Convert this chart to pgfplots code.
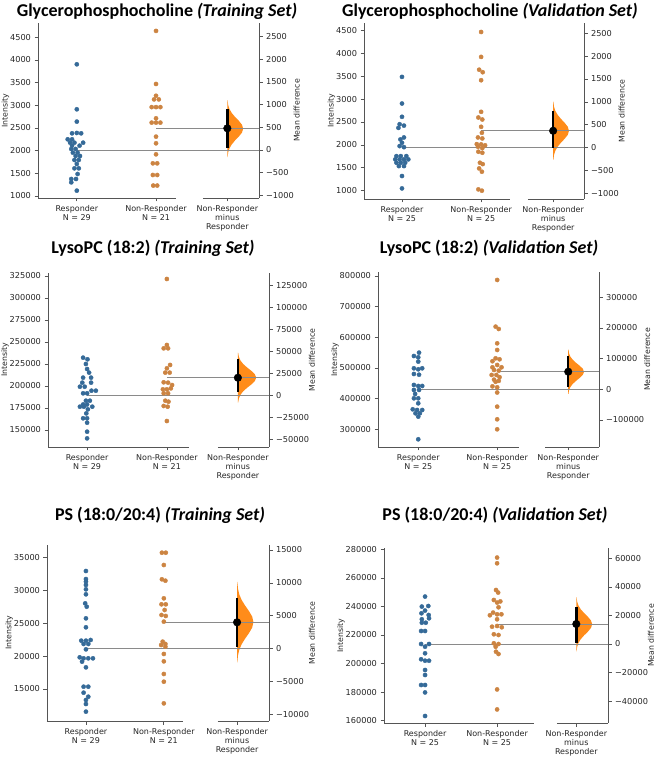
\documentclass[border=0pt]{standalone}
\usepackage{fontspec}
\setmainfont{DejaVu Sans}
\newfontfamily\titlefont{Carlito}
\usepackage{pgfplots}
\pgfplotsset{compat=1.18}

\definecolor{rblue}{HTML}{356A98}
\definecolor{nrorange}{HTML}{CC8442}
\definecolor{violin}{HTML}{FF8C1A}
\definecolor{spine}{HTML}{555555}
\definecolor{meanl}{HTML}{8A8A8A}

\pgfplotsset{
  swarm/.style={
    scale only axis, clip=false,
    axis y line*=left, axis x line*=bottom,
    x axis line style={draw=none},
    y axis line style={draw=spine, line width=0.8pt},
    tick align=outside, major tick length=3.5pt,
    tick style={draw=spine, line width=0.7pt},
    tick label style={font=\fontsize{8.2}{9.5}\selectfont, text=black!85},
    xticklabel style={align=center, font=\fontsize{8}{9.3}\selectfont},
    scaled y ticks=false,
    /pgf/number format/fixed, /pgf/number format/1000 sep={},
    /pgf/number format/assume math mode=true,
    ylabel={Intensity}, ylabel shift=-6pt,
    ylabel style={font=\fontsize{7.8}{9}\selectfont, text=black!85},
    title style={font=\titlefont\fontsize{18}{21}\selectfont\bfseries,
      at={(axis description cs:0.5,1)}, anchor=center},
  },
  delta/.style={
    scale only axis, clip=false,
    axis y line*=right, axis x line=none,
    y axis line style={draw=spine, line width=0.8pt},
    tick align=outside, major tick length=3.5pt,
    tick style={draw=spine, line width=0.7pt},
    tick label style={font=\fontsize{8.2}{9.5}\selectfont, text=black!85},
    scaled y ticks=false,
    ylabel={Mean difference}, ylabel shift=-7pt,
    ylabel style={font=\fontsize{7.8}{9}\selectfont, text=black!85},
  },
  rdot/.style={only marks, mark=*, mark size=2.1pt, rblue, forget plot},
  ndot/.style={only marks, mark=*, mark size=2.1pt, nrorange, forget plot},
  meanline/.style={meanl, line width=0.9pt, forget plot},
  base/.style={spine, line width=0.8pt, forget plot},
  vio/.style={fill=violin, draw=none, forget plot},
  ci/.style={black, line width=2.4pt, forget plot},
  md/.style={only marks, mark=*, mark size=3.8pt, black, forget plot},
}

\begin{document}
\begin{tikzpicture}
\useasboundingbox (0pt,0pt) rectangle (655pt,757pt);

% ---------------- Panel 1: Glycerophosphocholine, training
\begin{axis}[swarm, at={(38pt,559pt)}, anchor=south west, width=221pt, height=175pt,
  xmin=-0.49, xmax=2.30, ymin=956, ymax=4815,
  xtick={0,1,1.9},
  xticklabels={{Responder\\N = 29},{Non-Responder\\N = 21},{Non-Responder\\minus\\Responder}},
  ytick={1000,1500,2000,2500,3000,3500,4000,4500},
  title={Glycerophosphocholine \textit{(Training Set)}},
  title style={xshift=8.5pt, yshift=6pt}]
\addplot[base] coordinates {(-0.49,956) (1.25,956)};
\addplot[base] coordinates {(1.59,956) (2.30,956)};
\addplot[meanline] coordinates {(0,2014) (2.30,2014)};
\addplot[meanline] coordinates {(1,2493) (2.30,2493)};
\addplot[rdot] coordinates {
 (0,3904) (0,2912) (0,2640) (-0.06,2382) (0,2390) (0.055,2382)
 (-0.115,2250) (-0.06,2250) (-0.085,2176) (-0.03,2176) (0.08,2176)
 (-0.06,2110) (0.035,2110) (-0.07,2037) (-0.015,2037) (-0.05,1956) (0.01,1956)
 (-0.015,1882) (0.04,1882) (-0.03,1794) (0.025,1794) (0,1706)
 (-0.03,1610) (0.025,1610) (0.01,1485) (-0.07,1375) (-0.01,1375) (-0.07,1301) (0,1118)};
\addplot[ndot] coordinates {
 (1,4640) (1,3470) (1,3210) (0.975,3130) (1.035,3130)
 (0.945,2960) (1,2960) (1.055,2960) (1,2713) (0.945,2618) (1,2618) (1.055,2618)
 (1,2309) (1,2162) (1,1919) (0.96,1720) (1.015,1720) (0.96,1463) (1.015,1463)
 (0.965,1230) (1.015,1230)};
\end{axis}
\begin{axis}[delta, at={(38pt,559pt)}, anchor=south west, width=221pt, height=175pt,
  xmin=-0.49, xmax=2.30, ymin=-1058, ymax=2801,
  ytick={-1000,-500,0,500,1000,1500,2000,2500},
  yticklabels={−1000,−500,0,500,1000,1500,2000,2500}]
\addplot[vio] coordinates {
 (1.9,-159) (1.903,-159) (1.911,-51) (1.927,36) (1.956,123) (1.997,210) (2.045,296)
 (2.085,383) (2.1,470) (2.085,557) (2.045,644) (1.997,730) (1.956,817) (1.927,904)
 (1.911,991) (1.903,1099) (1.9,1099)};
\addplot[meanline] coordinates {(1.59,0) (2.30,0)};
\addplot[meanline] coordinates {(1.59,479) (2.30,479)};
\addplot[ci] coordinates {(1.9,50) (1.9,900)};
\addplot[md] coordinates {(1.9,479)};
\end{axis}

% ---------------- Panel 2: Glycerophosphocholine, validation
\begin{axis}[swarm, at={(364pt,558pt)}, anchor=south west, width=220pt, height=176pt,
  xmin=-0.48, xmax=2.30, ymin=819, ymax=4659,
  xtick={0,1,1.91},
  xticklabels={{Responder\\N = 25},{Non-Responder\\N = 25},{Non-Responder\\minus\\Responder}},
  ytick={1000,1500,2000,2500,3000,3500,4000,4500},
  title={Glycerophosphocholine \textit{(Validation Set)}},
  title style={xshift=16pt, yshift=6pt}]
\addplot[base] coordinates {(-0.48,819) (1.37,819)};
\addplot[base] coordinates {(1.59,819) (2.30,819)};
\addplot[meanline] coordinates {(0,1937) (2.30,1937)};
\addplot[meanline] coordinates {(1,2307) (2.30,2307)};
\addplot[rdot] coordinates {
 (0,3483) (0,2902) (0,2612) (-0.03,2450) (0.025,2420) (-0.045,2370)
 (0.025,2162) (-0.02,2118) (0,2045) (-0.03,1973) (0.025,1950)
 (-0.07,1755) (-0.015,1755) (0.055,1755)
 (-0.085,1683) (-0.03,1683) (0.025,1683) (0.08,1683)
 (-0.07,1610) (-0.015,1610) (0.04,1610) (-0.04,1537) (0.025,1537) (0,1320) (0,1050)};
\addplot[ndot] coordinates {
 (1,4463) (1,3919) (0.975,3640) (1.02,3585) (1,3410) (1,2721) (0.965,2597) (1.015,2553)
 (1,2394) (1.01,2263) (0.96,2162) (1.015,2140) (0.945,2016) (1,2010) (1.05,1990)
 (0.96,1958) (1.015,1929) (0.965,1850) (1.015,1828) (0.985,1610) (1.02,1580)
 (0.975,1486) (1.01,1414) (0.965,1029) (1.01,1000)};
\end{axis}
\begin{axis}[delta, at={(364pt,558pt)}, anchor=south west, width=220pt, height=176pt,
  xmin=-0.48, xmax=2.30, ymin=-1118, ymax=2722,
  ytick={-1000,-500,0,500,1000,1500,2000,2500},
  yticklabels={−1000,−500,0,500,1000,1500,2000,2500}]
\addplot[vio] coordinates {
 (1.91,-265) (1.913,-265) (1.921,-156) (1.937,-68) (1.966,20) (2.007,107) (2.055,195)
 (2.095,282) (2.11,370) (2.095,458) (2.055,545) (2.007,633) (1.966,720) (1.937,808)
 (1.921,896) (1.913,1005) (1.91,1005)};
\addplot[meanline] coordinates {(1.59,0) (2.30,0)};
\addplot[meanline] coordinates {(1.59,370) (2.30,370)};
\addplot[ci] coordinates {(1.91,0) (1.91,800)};
\addplot[md] coordinates {(1.91,370)};
\end{axis}

% ---------------- Panel 3: LysoPC (18:2), training
\begin{axis}[swarm, at={(48pt,310pt)}, anchor=south west, width=221pt, height=174pt,
  xmin=-0.49, xmax=2.28, ymin=130700, ymax=328400,
  xtick={0,1,1.89},
  xticklabels={{Responder\\N = 29},{Non-Responder\\N = 21},{Non-Responder\\minus\\Responder}},
  ytick={150000,175000,200000,225000,250000,275000,300000,325000},
  title={LysoPC (18:2) \textit{(Training Set)}},
  title style={xshift=-5.5pt, yshift=19pt}]
\addplot[base] coordinates {(-0.49,130700) (1.28,130700)};
\addplot[base] coordinates {(1.64,130700) (2.28,130700)};
\addplot[meanline] coordinates {(0,189000) (2.28,189000)};
\addplot[meanline] coordinates {(1,209400) (2.28,209400)};
\addplot[rdot] coordinates {
 (-0.05,232200) (0.005,230300) (-0.015,225000) (0,219300) (0.025,215200)
 (-0.05,209500) (0.05,209500) (-0.06,203800) (0.05,203800) (-0.09,199200) (-0.03,199200)
 (0.055,194700) (0.11,194700) (-0.05,191700) (0,191700) (-0.015,183300) (0.035,183300)
 (-0.05,179000) (0,179000) (-0.09,176500) (-0.04,176500) (0.065,176500) (0.01,173500)
 (-0.01,168900) (-0.05,163300) (0,163300) (0,158300) (0,148100) (0,140500)};
\addplot[ndot] coordinates {
 (1,321600) (1,246600) (0.96,242800) (1.015,242800) (1.04,223900) (1,220100)
 (0.98,215200) (1.035,215200) (0.96,204200) (1.015,203800) (1.065,201100)
 (0.95,196200) (1,196200) (1.05,197300) (0.96,191700) (1.015,191700)
 (0.98,183300) (1.02,182200) (0.96,177300) (1.01,176500) (1,160200)};
\end{axis}
\begin{axis}[delta, at={(48pt,310pt)}, anchor=south west, width=221pt, height=174pt,
  xmin=-0.49, xmax=2.28, ymin=-58300, ymax=139400,
  ytick={-50000,-25000,0,25000,50000,75000,100000,125000},
  yticklabels={−50000,−25000,0,25000,50000,75000,100000,125000}]
\addplot[vio] coordinates {
 (1.89,-8000) (1.893,-8000) (1.903,-3090) (1.921,840) (1.954,4770) (2.002,8700) (2.057,12640)
 (2.102,16570) (2.12,20500) (2.102,24430) (2.057,28360) (2.002,32300) (1.954,36230)
 (1.921,40160) (1.903,44090) (1.893,49000) (1.89,49000)};
\addplot[meanline] coordinates {(1.64,0) (2.28,0)};
\addplot[meanline] coordinates {(1.64,20400) (2.28,20400)};
\addplot[ci] coordinates {(1.89,4600) (1.89,41500)};
\addplot[md] coordinates {(1.89,20400)};
\end{axis}

% ---------------- Panel 4: LysoPC (18:2), validation
\begin{axis}[swarm, at={(378pt,310pt)}, anchor=south west, width=221pt, height=175pt,
  xmin=-0.51, xmax=2.29, ymin=242300, ymax=813000,
  xtick={0,1,1.9},
  xticklabels={{Responder\\N = 25},{Non-Responder\\N = 25},{Non-Responder\\minus\\Responder}},
  ytick={300000,400000,500000,600000,700000,800000},
  title={LysoPC (18:2) \textit{(Validation Set)}},
  title style={xshift=0.5pt, yshift=18pt}]
\addplot[base] coordinates {(-0.51,242300) (1.28,242300)};
\addplot[base] coordinates {(1.61,242300) (2.29,242300)};
\addplot[meanline] coordinates {(0,430400) (2.29,430400)};
\addplot[meanline] coordinates {(1,487800) (2.29,487800)};
\addplot[rdot] coordinates {
 (0.01,550000) (-0.055,539000) (0,534800) (0,520700) (-0.055,498900) (0.05,498900)
 (0,495700) (-0.055,480400) (0.01,478000) (-0.055,444600) (0.05,441300) (0,441300)
 (-0.055,428300) (0.01,428300) (-0.04,415200) (-0.055,401100) (0,401100) (0,384800)
 (-0.07,365200) (-0.015,363000) (0.05,363000) (-0.035,352200) (0.02,352200)
 (0,341300) (0,267400)};
\addplot[ndot] coordinates {
 (1,787000) (0.98,634800) (1.02,627200) (1,580400) (1,558700) (0.98,531500) (1.03,528300)
 (0.94,522000) (1,509800) (0.94,502200) (1.055,502200) (0.96,493500) (1.02,491300)
 (0.93,477200) (0.99,477200) (1.03,470000) (0.96,462000) (1.02,458000) (0.98,455000)
 (0.94,440000) (1,437000) (1,420000) (1,373900) (1,332600) (1,300000)};
\end{axis}
\begin{axis}[delta, at={(378pt,310pt)}, anchor=south west, width=221pt, height=175pt,
  xmin=-0.51, xmax=2.29, ymin=-188100, ymax=382600,
  ytick={-100000,0,100000,200000,300000},
  yticklabels={−100000,0,100000,200000,300000}]
\addplot[vio] coordinates {
 (1.9,-15200) (1.903,-15200) (1.911,-2760) (1.927,7200) (1.956,17160) (1.997,27120) (2.045,37080)
 (2.085,47040) (2.1,57000) (2.085,66960) (2.045,76920) (1.997,86880) (1.956,96840)
 (1.927,106800) (1.911,116760) (1.903,129200) (1.9,129200)};
\addplot[meanline] coordinates {(1.61,0) (2.29,0)};
\addplot[meanline] coordinates {(1.61,57400) (2.29,57400)};
\addplot[ci] coordinates {(1.9,8400) (1.9,107800)};
\addplot[md] coordinates {(1.9,57400)};
\end{axis}

% ---------------- Panel 5: PS (18:0/20:4), training
\begin{axis}[swarm, at={(47pt,36pt)}, anchor=south west, width=222pt, height=176pt,
  xmin=-0.5, xmax=2.35, ymin=10140, ymax=36870,
  xtick={0,1,1.94},
  xticklabels={{Responder\\N = 29},{Non-Responder\\N = 21},{Non-Responder\\minus\\Responder}},
  ytick={15000,20000,25000,30000,35000},
  title={PS (18:0/20:4) \textit{(Training Set)}},
  title style={xshift=2pt, yshift=24pt}]
\addplot[base] coordinates {(-0.5,10140) (1.24,10140)};
\addplot[base] coordinates {(1.69,10140) (2.35,10140)};
\addplot[meanline] coordinates {(0,21120) (2.35,21120)};
\addplot[meanline] coordinates {(1,25130) (2.35,25130)};
\addplot[rdot] coordinates {
 (0,32920) (0,31700) (0,31300) (0,30800) (0,30140) (0,29380) (-0.01,28010) (0.01,27500)
 (0,25730) (0,24370) (0.06,22440) (-0.06,22340) (0,22340) (-0.03,21840) (0.03,21840)
 (0,21020) (-0.08,19810) (-0.03,19660) (0.03,19660) (0.09,19660) (-0.05,19150) (0,18290)
 (-0.03,15350) (0.03,15350) (-0.03,14440) (0.03,13830) (0,13330) (0,12720) (0,11560)};
\addplot[ndot] coordinates {
 (0.975,35700) (1.025,35700) (1,33830) (0.975,31660) (1.02,31450) (1,28770)
 (0.97,27860) (1.025,27860) (1.01,27000) (0.97,26240) (1.025,26090) (1,25230)
 (0.985,22190) (1.02,21840) (0.965,21680) (1.02,21430) (1,20320) (1,19200)
 (1,17280) (1,16110) (1,12820)};
\end{axis}
\begin{axis}[delta, at={(47pt,36pt)}, anchor=south west, width=222pt, height=176pt,
  xmin=-0.5, xmax=2.35, ymin=-10980, ymax=15750,
  ytick={-10000,-5000,0,5000,10000,15000},
  yticklabels={−10000,−5000,0,5000,10000,15000}]
\addplot[vio] coordinates {
 (1.94,-2080) (1.943,-2080) (1.952,-1024) (1.968,-180) (1.998,664) (2.042,1508) (2.092,2352)
 (2.134,3196) (2.15,4040) (2.134,4884) (2.092,5728) (2.042,6572) (1.998,7416)
 (1.968,8260) (1.952,9104) (1.943,10160) (1.94,10160)};
\addplot[meanline] coordinates {(1.69,0) (2.35,0)};
\addplot[meanline] coordinates {(1.69,4010) (2.35,4010)};
\addplot[ci] coordinates {(1.94,300) (1.94,7660)};
\addplot[md] coordinates {(1.94,4010)};
\end{axis}

% ---------------- Panel 6: PS (18:0/20:4), validation
\begin{axis}[swarm, at={(384pt,34pt)}, anchor=south west, width=224pt, height=175pt,
  xmin=-0.57, xmax=2.54, ymin=158400, ymax=280900,
  xtick={0,1,2.1},
  xticklabels={{Responder\\N = 25},{Non-Responder\\N = 25},{Non-Responder\\minus\\Responder}},
  ytick={160000,180000,200000,220000,240000,260000,280000},
  title={PS (18:0/20:4) \textit{(Validation Set)}},
  title style={xshift=-1pt, yshift=27pt}]
\addplot[base] coordinates {(-0.57,158400) (1.51,158400)};
\addplot[base] coordinates {(1.83,158400) (2.54,158400)};
\addplot[meanline] coordinates {(0,213700) (2.54,213700)};
\addplot[meanline] coordinates {(1,227700) (2.54,227700)};
\addplot[rdot] coordinates {
 (0,246900) (0.045,240300) (-0.045,239900) (0,237100) (-0.05,235200) (0.05,234000)
 (0.055,231700) (-0.045,231000) (-0.045,228600) (0.01,228600) (-0.055,222800) (0,222800)
 (-0.055,213700) (0.055,213700) (0,211800) (0,207200) (-0.055,203000) (0,202000) (0.055,202000)
 (0,195500) (0,192000) (-0.055,185000) (0,185000) (0,179800) (0,163300)};
\addplot[ndot] coordinates {
 (1,274200) (1,270200) (0.985,251500) (1.015,249700) (0.955,244500) (1.045,243500)
 (1,242700) (1.02,239400) (0.945,235700) (1,234500) (1.06,234500) (0.9,233800)
 (1,231000) (1,226300) (0.93,225800) (1.065,225400) (0.955,220500) (1.02,220000)
 (0.955,214200) (1.02,213700) (0.98,211800) (0.985,208300) (1.02,206700)
 (1,181900) (1,167900)};
\end{axis}
\begin{axis}[delta, at={(384pt,34pt)}, anchor=south west, width=224pt, height=175pt,
  xmin=-0.57, xmax=2.54, ymin=-55300, ymax=67200,
  ytick={-40000,-20000,0,20000,40000,60000},
  yticklabels={−40000,−20000,0,20000,40000,60000}]
\addplot[vio] coordinates {
 (2.1,-5170) (2.103,-5170) (2.112,-1890) (2.13,730) (2.161,3350) (2.207,5980) (2.26,8600)
 (2.303,11230) (2.32,13850) (2.303,16470) (2.26,19100) (2.207,21720) (2.161,24350)
 (2.13,26970) (2.112,29590) (2.103,32870) (2.1,32870)};
\addplot[meanline] coordinates {(1.83,0) (2.54,0)};
\addplot[meanline] coordinates {(1.83,14000) (2.54,14000)};
\addplot[ci] coordinates {(2.1,500) (2.1,25800)};
\addplot[md] coordinates {(2.1,14000)};
\end{axis}
\end{tikzpicture}
\end{document}
